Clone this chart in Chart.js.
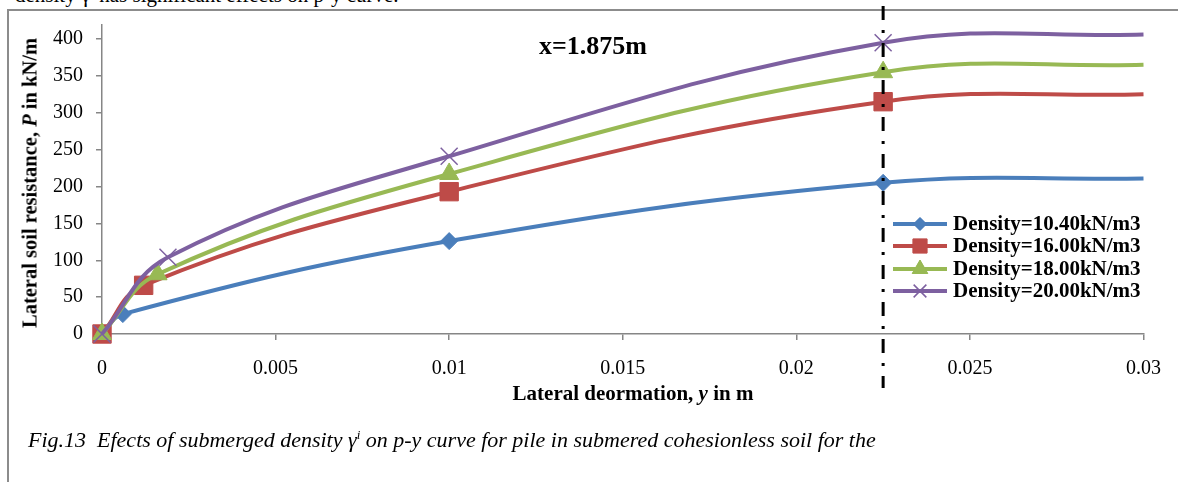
<!DOCTYPE html>
<html>
<head>
<meta charset="utf-8">
<script src="https://cdn.jsdelivr.net/npm/chart.js@4"></script>
<style>
  body { margin: 0; background: #fff; }
  #wrap { position: relative; width: 1178px; height: 482px; overflow: hidden; font-family: 'Liberation Serif', 'Times New Roman', serif; color: #000; }
  #frame { position: absolute; left: 7px; top: 9px; width: 1200px; height: 500px; border-left: 2px solid #8c8c8c; border-top: 2px solid #8c8c8c; }
  canvas { position: absolute; left: 0; top: 0; }
  .txt { position: absolute; white-space: nowrap; }
  #topText { left: 15px; top: -16px; font-size: 21px; line-height: 22px; }
  #yTitle { left: 30px; top: 183px; font-size: 20.5px; font-weight: bold; transform: translate(-50%, -50%) rotate(-90deg); }
  #xTitle { left: 633px; top: 393px; font-size: 21px; font-weight: bold; transform: translate(-50%, -50%); }
  #note { left: 539px; top: 46px; font-size: 26px; font-weight: bold; transform: translateY(-50%); }
  #caption { left: 28px; top: 440px; font-size: 22px; font-style: italic; transform: translateY(-50%); }
  #caption sup { font-size: 13px; }
</style>
</head>
<body>
<div id="wrap">
  <div id="frame"></div>
  <div class="txt" id="topText">density γ' has significant effects on p-y curve.</div>
  <canvas id="chart" width="1178" height="482"></canvas>
  <div class="txt" id="yTitle">Lateral soil resistance, <i>P</i> in kN/m</div>
  <div class="txt" id="xTitle">Lateral deormation, <i>y</i> in m</div>
  <div class="txt" id="note">x=1.875m</div>
  <div class="txt" id="caption">Fig.13&nbsp; Efects of submerged density γ<sup>i</sup> on p-y curve for pile in submered cohesionless soil for the</div>
</div>
<script>
// values
const seriesNames = ['Density=10.40kN/m3', 'Density=16.00kN/m3', 'Density=18.00kN/m3', 'Density=20.00kN/m3'];
const yBlue = [0, 0.0006, 0.01, 0.0225, 0.03];
const pBlue = [0, 27, 126, 205, 211];
const yRed = [0, 0.0012, 0.01, 0.0225, 0.03];
const pRed = [0, 66, 193, 315, 325];
const yGreen = [0, 0.0016, 0.01, 0.0225, 0.03];
const pGreen = [0, 81, 217, 355, 365];
const yPurple = [0, 0.0019, 0.01, 0.0225, 0.03];
const pPurple = [0, 104, 241, 395, 406];
const xTicks = [0, 0.005, 0.01, 0.015, 0.02, 0.025, 0.03];
const xTickLabels = ['0', '0.005', '0.01', '0.015', '0.02', '0.025', '0.03'];
const yTicks = [0, 50, 100, 150, 200, 250, 300, 350, 400];
const markLineX = 0.0225;

const colors = ['#4a7ebb', '#be4b48', '#98b954', '#7d60a0'];
const styles = ['rectRot', 'rect', 'triangle', 'crossRot'];
const radii = [8.5, 13, 11, 12];

function toPoints(xs, ys) {
    return xs.map((x, i) => ({ x: x, y: ys[i] }));
}

function makeSet(idx, xs, ys) {
    const r = radii[idx];
    return {
        label: seriesNames[idx],
        data: toPoints(xs, ys),
        borderColor: colors[idx],
        backgroundColor: colors[idx],
        borderWidth: 4,
        pointStyle: styles[idx],
        pointRadius: xs.map((x, i) => i === xs.length - 1 ? 0 : r),
        pointBorderWidth: idx === 3 ? 1.5 : 1,
        pointBorderColor: colors[idx],
        pointBackgroundColor: colors[idx],
        tension: 0.4,
        clip: false,
        order: 4 - idx
    };
}

const serif = "'Liberation Serif', 'Times New Roman', serif";

function drawMark(ctx, style, r, x, y) {
    ctx.save();
    ctx.beginPath();
    if (style === 'crossRot') {
        const s = r * Math.SQRT1_2;
        ctx.moveTo(x - s, y - s); ctx.lineTo(x + s, y + s);
        ctx.moveTo(x - s, y + s); ctx.lineTo(x + s, y - s);
        ctx.stroke();
    } else {
        Chart.helpers.drawPoint(ctx, { pointStyle: style, radius: r, borderWidth: 1 }, x, y);
        ctx.fill();
    }
    ctx.restore();
}

const overlay = {
    id: 'overlay',
    afterDatasetsDraw(chart) {
        // dash-dot marker line at y = 0.0225 m
        const ctx = chart.ctx;
        const px = chart.scales.x.getPixelForValue(markLineX);
        ctx.save();
        ctx.strokeStyle = '#000';
        ctx.lineWidth = 3;
        ctx.setLineDash([14, 10, 3, 10]);
        ctx.beginPath();
        ctx.moveTo(px, 6);
        ctx.lineTo(px, 388);
        ctx.stroke();
        ctx.restore();
    },
    afterDraw(chart) {
        // legend: line sample with marker, then label
        const ctx = chart.ctx;
        const lx0 = 893, lx1 = 947, tx = 953;
        const rows = [224, 246, 269, 291];
        const legR = [6.5, 10, 9, 9];
        ctx.save();
        ctx.font = 'bold 21px ' + serif;
        ctx.textBaseline = 'middle';
        rows.forEach((y, i) => {
            ctx.strokeStyle = colors[i];
            ctx.lineWidth = 4;
            ctx.beginPath();
            ctx.moveTo(lx0, y);
            ctx.lineTo(lx1, y);
            ctx.stroke();
            ctx.fillStyle = colors[i];
            ctx.lineWidth = i === 3 ? 1.5 : 1;
            drawMark(ctx, styles[i], legR[i], (lx0 + lx1) / 2, y);
            ctx.fillStyle = '#000';
            ctx.fillText(seriesNames[i], tx, y + 1);
        });
        ctx.restore();
    }
};

new Chart(document.getElementById('chart'), {
    type: 'line',
    data: {
        datasets: [
            makeSet(0, yBlue, pBlue),
            makeSet(1, yRed, pRed),
            makeSet(2, yGreen, pGreen),
            makeSet(3, yPurple, pPurple)
        ]
    },
    options: {
        responsive: false,
        animation: false,
        events: [],
        layout: { padding: { top: 22, right: 32, left: 0, bottom: 0 } },
        plugins: { legend: { display: false }, tooltip: { enabled: false } },
        scales: {
            x: {
                type: 'linear',
                min: 0,
                max: 0.03,
                afterBuildTicks: (s) => { s.ticks = xTicks.map(v => ({ value: v })); },
                afterFit: (s) => { s.height = 148; },
                border: { color: '#868686', width: 1.5 },
                grid: { drawOnChartArea: false, drawTicks: true, tickLength: 6, color: '#868686', lineWidth: 1.5 },
                ticks: {
                    padding: 17,
                    color: '#000',
                    maxRotation: 0,
                    font: { family: serif, size: 20 },
                    callback: (v) => { const i = xTicks.indexOf(v); return i >= 0 ? xTickLabels[i] : ''; }
                }
            },
            y: {
                min: 0,
                max: 419,
                afterBuildTicks: (s) => { s.ticks = yTicks.map(v => ({ value: v })); },
                afterFit: (s) => { s.width = 102; },
                border: { color: '#868686', width: 1.5 },
                grid: { drawOnChartArea: false, drawTicks: true, tickLength: 6, color: '#868686', lineWidth: 1.5 },
                ticks: {
                    padding: 13,
                    color: '#000',
                    font: { family: serif, size: 20 },
                    callback: (v) => String(v)
                }
            }
        }
    },
    plugins: [overlay]
});
</script>
</body>
</html>
